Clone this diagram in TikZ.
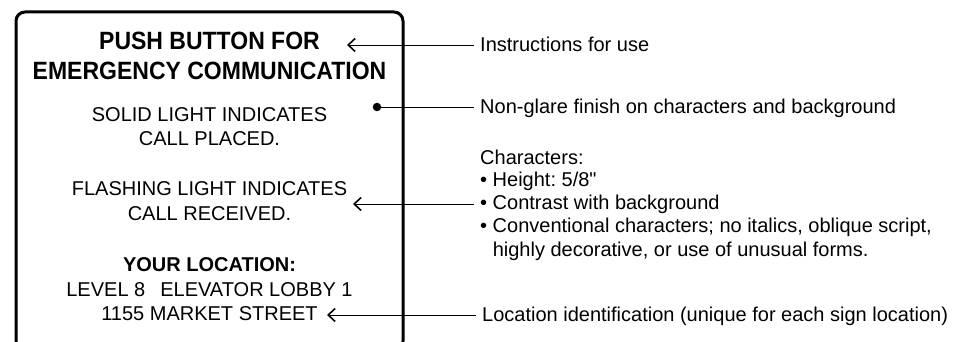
\documentclass[tikz,border=0pt]{standalone}
\usepackage{fontspec}
\setmainfont{Liberation Sans}[Ligatures=TeXOff]
\newfontfamily\headfont[FakeStretch=0.92]{Liberation Sans}
\usetikzlibrary{arrows.meta}

\tikzset{
    signhead/.style={anchor=base, inner sep=0pt, font=\headfont\fontsize{25}{29}\selectfont\bfseries},
    signtext/.style={anchor=base, inner sep=0pt, font=\fontsize{20}{24}\selectfont},
    note/.style={anchor=base west, inner ysep=0pt, inner xsep=6pt, font=\fontsize{20}{23}\selectfont\frenchspacing},
    pointer/.style={{Straight Barb[length=7pt,width=13pt,line width=1.6pt]}-, line width=0.9pt},
}

\begin{document}
\begin{tikzpicture}[x=1pt, y=-1pt]
    \useasboundingbox (0,0) rectangle (954,342);
    \begin{scope}
        \clip (0,0) rectangle (954,342);
        \draw[line width=3pt, rounded corners=9pt] (16,12) rectangle (403,350);
    \end{scope}

    \node[signhead] (push) at (209.5,50) {PUSH BUTTON FOR};
    \node[signhead] (emerg) at (209.5,80) {EMERGENCY COMMUNICATION};
    \node[signtext] (solid) at (209.5,121.5) {SOLID LIGHT INDICATES};
    \node[signtext] (placed) at (209.5,146) {CALL PLACED.};
    \node[signtext] (flash) at (209.5,196) {FLASHING LIGHT INDICATES};
    \node[signtext] (received) at (209.5,220.5) {CALL RECEIVED.};
    \node[signtext, font=\fontsize{20}{24}\selectfont\bfseries] (yourloc) at (209.5,271.5) {YOUR LOCATION:};
    \node[signtext] (level) at (209.5,296) {LEVEL 8\hspace{15pt}ELEVATOR LOBBY 1};
    \node[signtext] (street) at (209.5,320) {1155 MARKET STREET};

    \coordinate (tip1) at (347,45);
    \node[circle, fill, inner sep=0pt, minimum size=8.5pt] (dot) at (377,107) {};
    \coordinate (tip3) at (353,204);
    \coordinate (tip4) at (327,315);

    \node[note] (instr) at (474,52) {Instructions for use};
    \node[note] (glare) at (474,114) {Non-glare finish on characters and background};
    \node[note] (chars) at (474,165) {Characters:};
    \node[note] (height) at (474,187) {\textbullet\ Height: 5/8"};
    \node[note] (contrast) at (474,210) {\textbullet\ Contrast with background};
    \node[note] (convent) at (474,233) {\textbullet\ Conventional characters; no italics, oblique script,};
    \node[note] (decor) at (474,256.5) {\hphantom{\textbullet\ }highly decorative, or use of unusual forms.};
    \node[note] (locid) at (476,321.5) {Location identification (unique for each sign location)};

    \draw[pointer] (tip1) -- (tip1 -| instr.west);
    \draw[line width=0.9pt] (dot.center) -- (dot.center -| glare.west);
    \draw[pointer] (tip3) -- (tip3 -| contrast.west);
    \draw[pointer] (tip4) -- (tip4 -| locid.west);
\end{tikzpicture}
\end{document}
